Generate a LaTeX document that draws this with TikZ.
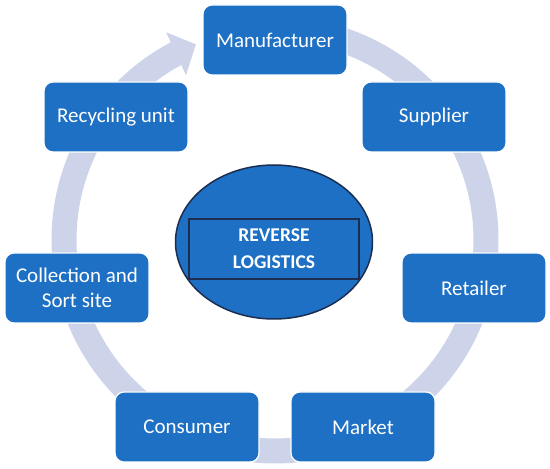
\documentclass[tikz,border=0pt]{standalone}
\usepackage{fontspec}
\setmainfont{Carlito}
\usetikzlibrary{arrows.meta,shapes.geometric,bending}
\definecolor{boxblue}{RGB}{30,112,196}
\definecolor{ringcol}{RGB}{205,212,234}
\definecolor{navy}{RGB}{28,45,80}
\begin{document}
\begin{tikzpicture}[x=1pt,y=1pt,
  stage/.style={draw=white,line width=1.2pt,fill=boxblue,rounded corners=9pt,
    minimum width=144pt,minimum height=70pt,text=white,
    font=\fontsize{21}{25}\selectfont,align=center,inner sep=0pt},
  ring/.style={ringcol,line width=25pt,-{Triangle[width=46pt,length=22pt,flex]}},
  coreshape/.style={ellipse,draw=navy,line width=1.5pt,fill=boxblue,
    minimum width=197pt,minimum height=154pt,inner sep=0pt},
  corebox/.style={draw=navy,line width=1.5pt,minimum width=170pt,minimum height=60pt,
    text=white,font=\bfseries\fontsize{19.5}{27}\selectfont,align=center,inner sep=0pt}
]
\useasboundingbox (0,0) rectangle (550,469);
\coordinate (c) at (275,229);
\coordinate (rs) at ([shift={(85:211)}]c);
\draw[ring] (rs) arc[start angle=85,end angle=-248,radius=211];

\node[stage] (man) at (275,429) {Manufacturer};
\node[stage] (sup) at (434,352) {Supplier};
\node[stage] (ret) at (474,181) {Retailer};
\node[stage] (mkt) at (363,42) {Market};
\node[stage] (con) at (187,42) {Consumer};
\node[stage] (col) at (77,181) {Collection and\\Sort site};
\node[stage] (rec) at (116,352) {Recycling unit};

\node[coreshape] (ell) at (274,227) {};
\node[corebox] (core) at (274,220) {REVERSE\\LOGISTICS};
\end{tikzpicture}
\end{document}
